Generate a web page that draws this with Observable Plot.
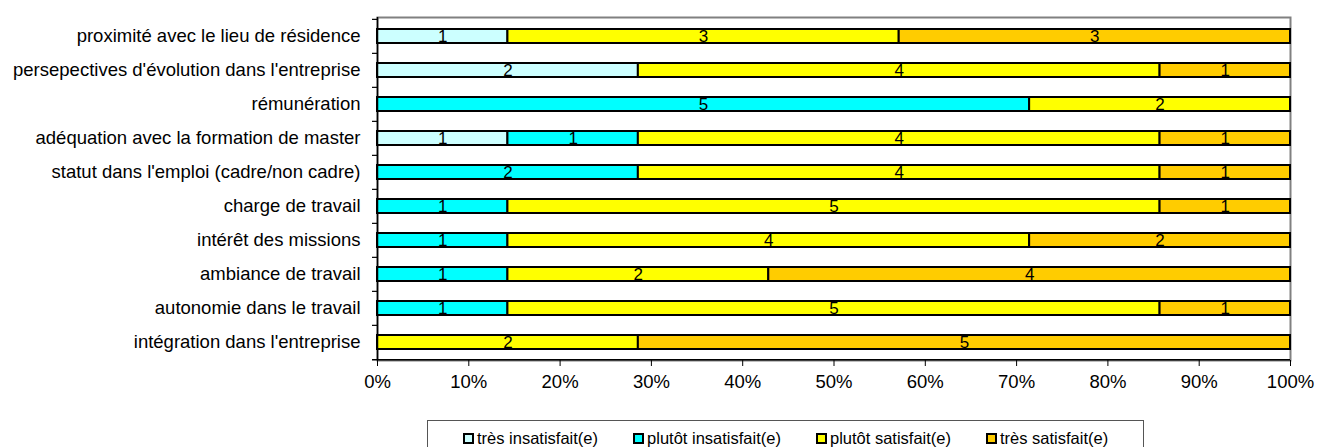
<!DOCTYPE html>
<html><head><meta charset="utf-8">
<script src="https://cdn.jsdelivr.net/npm/d3@7"></script>
<script src="https://cdn.jsdelivr.net/npm/@observablehq/plot@0.6"></script>
<style>
body{margin:0;background:#fff;font-family:"Liberation Sans",Arial,sans-serif;}
#chart{position:relative;width:1317px;height:447px;overflow:hidden;}
#legend{position:absolute;left:427px;top:420px;border:1.5px solid #555;border-bottom:none;padding:7px 35px 6px 35px;display:flex;gap:35px;font-size:16.5px;color:#000;white-space:nowrap;height:34px;box-sizing:border-box;}
#legend .it{display:flex;align-items:center;}
#legend .sw{width:7px;height:7px;border:2px solid #000;margin-right:3px;}
</style></head><body><div id="chart"><div id="legend"></div></div>
<script>
const categories = [
  "proximité avec le lieu de résidence",
  "persepectives d'évolution dans l'entreprise",
  "rémunération",
  "adéquation avec la formation de master",
  "statut dans l'emploi (cadre/non cadre)",
  "charge de travail",
  "intérêt des missions",
  "ambiance de travail",
  "autonomie dans le travail",
  "intégration dans l'entreprise"
];
const levels = ["très insatisfait(e)", "plutôt insatisfait(e)", "plutôt satisfait(e)", "très satisfait(e)"];
const tresInsatisfait   = [1, 2, 0, 1, 0, 0, 0, 0, 0, 0];
const plutotInsatisfait = [0, 0, 5, 1, 2, 1, 1, 1, 1, 0];
const plutotSatisfait   = [3, 4, 2, 4, 4, 5, 4, 2, 5, 2];
const tresSatisfait     = [3, 1, 0, 1, 1, 1, 2, 4, 1, 5];
const colors = ["#CCFFFF", "#00FFFF", "#FFFF00", "#FFCC00"];
const xTicks = [0, 0.1, 0.2, 0.3, 0.4, 0.5, 0.6, 0.7, 0.8, 0.9, 1];

const series = [tresInsatisfait, plutotInsatisfait, plutotSatisfait, tresSatisfait];
const data = [];
categories.forEach((c, i) => levels.forEach((l, j) => data.push({cat: c, level: l, value: series[j][i]})));
const nz = data.filter(d => d.value > 0);

const W = 1317, H = 412, mT = 17, mB = 52, mL = 377, mR = 27;
const step = (H - mT - mB) / categories.length;
const tickX = -5 / (W - mL - mR);

const chart = Plot.plot({
  width: W, height: H,
  marginTop: mT, marginBottom: mB, marginLeft: mL, marginRight: mR,
  style: {fontFamily: "'Liberation Sans', Arial, sans-serif", fontSize: "18.5px", color: "#000", background: "#fff", overflow: "visible"},
  x: {domain: [0, 1], axis: null, label: null},
  y: {domain: categories, paddingInner: 0.59, paddingOuter: 0.295, axis: null, label: null},
  color: {domain: levels, range: colors},
  marks: [
    Plot.frame({stroke: "#808080", strokeWidth: 2}),
    Plot.barX(nz, Plot.stackX({x: "value", y: "cat", fill: "level", z: "level", order: levels, offset: "normalize", stroke: "#000", strokeWidth: 2})),
    Plot.text(nz, Plot.stackX({x: "value", y: "cat", z: "level", order: levels, offset: "normalize", text: d => String(d.value), fill: "#000", fontSize: 17})),
    Plot.ruleX([0], {stroke: "#000", strokeWidth: 1.5}),
    Plot.ruleY(categories, {y: d => d, dy: -step / 2, x1: tickX, x2: 0, stroke: "#000", strokeWidth: 1.2}),
    Plot.ruleY(categories.slice(-1), {y: d => d, dy: step / 2, x1: tickX, x2: 1, stroke: "#000", strokeWidth: 1.5}),
    Plot.axisY({tickSize: 0, tickPadding: 17, fontSize: 18.5, anchor: "left", label: null}),
    Plot.axisX({ticks: xTicks, tickFormat: d3.format(".0%"), tickSize: 6, tickPadding: 8, fontSize: 18.5, anchor: "bottom", stroke: "#000", label: null})
  ]
});
document.getElementById("chart").prepend(chart);

const leg = document.getElementById("legend");
levels.forEach((l, i) => {
  const it = document.createElement("div"); it.className = "it";
  const sw = document.createElement("span"); sw.className = "sw"; sw.style.background = colors[i];
  const tx = document.createElement("span"); tx.textContent = l;
  it.append(sw, tx); leg.append(it);
});
</script>
</body></html>
